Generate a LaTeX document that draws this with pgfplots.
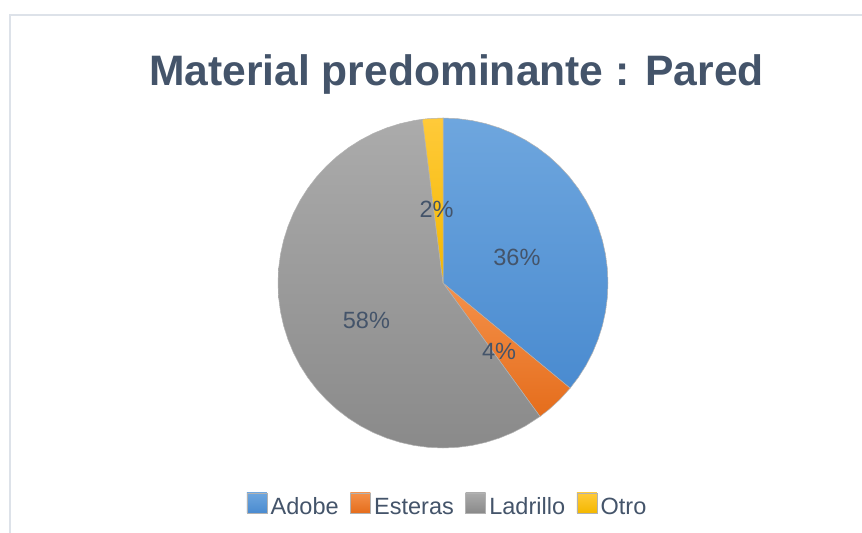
\documentclass[border=0pt]{standalone}
\usepackage{pgfplots}
\pgfplotsset{compat=1.18}
\usepgfplotslibrary{polar}
\usepackage{fontspec}
\setmainfont{Liberation Sans}
\definecolor{txt}{HTML}{44546A}
\definecolor{adobeT}{HTML}{6EA6DE}
\definecolor{adobeB}{HTML}{4A8BD0}
\definecolor{estT}{HTML}{F4914A}
\definecolor{estB}{HTML}{E56D1C}
\definecolor{ladT}{HTML}{ABABAB}
\definecolor{ladB}{HTML}{8A8A8A}
\definecolor{otrT}{HTML}{FFCA3A}
\definecolor{otrB}{HTML}{F4B800}
\definecolor{frame}{HTML}{DDE2E9}
\begin{document}
\begin{tikzpicture}
\useasboundingbox (0,0) rectangle (862bp,533bp);
\fill[white] (0,0) rectangle (862bp,533bp);
\draw[frame, line width=1.5bp] (10bp,0bp) -- (10bp,518bp) -- (862bp,518bp);
\node[anchor=base, text=txt, font=\bfseries\fontsize{42.6bp}{50bp}\selectfont] at (456.5bp,447bp) {Material predominante : Pared};
\begin{polaraxis}[
  at={(443bp,250bp)}, anchor=center,
  width=330bp, height=330bp, scale only axis,
  hide axis, clip=false,
  xmin=0, xmax=360, ymin=0, ymax=1,
  legend columns=4,
  legend style={draw=none, fill=none, at={(0.513,-0.173)}, anchor=center,
    font=\fontsize{23.5bp}{28bp}\selectfont, text=txt,
    /tikz/every odd column/.append style={column sep=2bp},
    /tikz/every even column/.append style={column sep=10bp},
    nodes={inner sep=1.5bp}},
  legend image code/.code={\path[#1] (0bp,-6bp) rectangle (20bp,14bp);},
  every axis plot/.append style={draw=black!30, line width=0.5bp},
]
% Adobe 36%
\addplot[top color=adobeT, bottom color=adobeB] coordinates {
 (0,0) (90,1) (85,1) (80,1) (75,1) (70,1) (65,1) (60,1) (55,1) (50,1) (45,1)
 (40,1) (35,1) (30,1) (25,1) (20,1) (15,1) (10,1) (5,1) (0,1) (-5,1) (-10,1)
 (-15,1) (-20,1) (-25,1) (-30,1) (-35,1) (-39.6,1) (0,0)} -- cycle;
\addlegendentry{Adobe}
% Esteras 4%
\addplot[top color=estT, bottom color=estB] coordinates {
 (0,0) (-39.6,1) (-45,1) (-50,1) (-54,1) (0,0)} -- cycle;
\addlegendentry{Esteras}
% Ladrillo 58%
\addplot[top color=ladT, bottom color=ladB] coordinates {
 (0,0) (-54,1) (-60,1) (-65,1) (-70,1) (-75,1) (-80,1) (-85,1) (-90,1) (-95,1)
 (-100,1) (-105,1) (-110,1) (-115,1) (-120,1) (-125,1) (-130,1) (-135,1) (-140,1)
 (-145,1) (-150,1) (-155,1) (-160,1) (-165,1) (-170,1) (-175,1) (-180,1) (-185,1)
 (-190,1) (-195,1) (-200,1) (-205,1) (-210,1) (-215,1) (-220,1) (-225,1) (-230,1)
 (-235,1) (-240,1) (-245,1) (-250,1) (-255,1) (-260,1) (-262.8,1) (0,0)} -- cycle;
\addlegendentry{Ladrillo}
% Otro 2%
\addplot[top color=otrT, bottom color=otrB] coordinates {
 (0,0) (-262.8,1) (-265,1) (-270,1) (0,0)} -- cycle;
\addlegendentry{Otro}
\begin{scope}[every node/.style={text=txt, font=\fontsize{23.5bp}{28bp}\selectfont, inner sep=0pt}]
\node at (axis cs:19.36,0.475) {36\%};
\node at (axis cs:-50.7,0.536) {4\%};
\node at (axis cs:206.1,0.517) {58\%};
\node at (axis cs:94.9,0.450) {2\%};
\end{scope}
\end{polaraxis}
\end{tikzpicture}
\end{document}
